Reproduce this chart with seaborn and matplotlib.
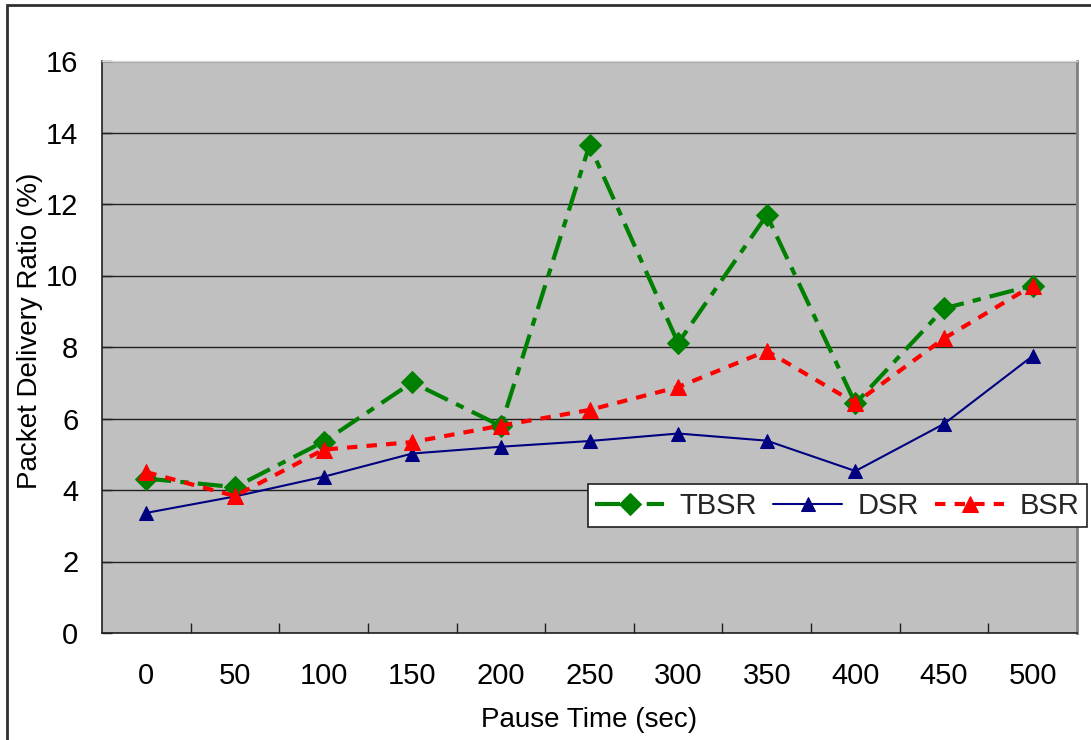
import matplotlib
matplotlib.use("Agg")
import matplotlib.pyplot as plt
import seaborn as sns
import pandas as pd
from matplotlib.patches import Rectangle
from matplotlib.ticker import MultipleLocator, FixedLocator

pause_times = [0, 50, 100, 150, 200, 250, 300, 350, 400, 450, 500]
tbsr = [4.32, 4.08, 5.35, 7.01, 5.79, 13.65, 8.11, 11.69, 6.42, 9.08, 9.72]
dsr = [3.36, 3.82, 4.37, 5.02, 5.21, 5.37, 5.58, 5.38, 4.53, 5.85, 7.75]
bsr = [4.50, 3.83, 5.13, 5.34, 5.80, 6.24, 6.88, 7.89, 6.43, 8.24, 9.72]
series_names = ["TBSR", "DSR", "BSR"]

sns.set_theme(style="white")
plt.rcParams['font.family'] = ['Liberation Sans', 'DejaVu Sans']

fig = plt.figure(figsize=(10.91, 7.40), dpi=100)
ax = fig.add_axes([102/1091, 1-633/740, (1077-102)/1091, (633-61)/740])
ax.set_facecolor("#C0C0C0")

df = pd.DataFrame({"Pause": pause_times, "TBSR": tbsr, "DSR": dsr, "BSR": bsr})

sns.lineplot(data=df, x="Pause", y="TBSR", ax=ax, color="#008000", lw=3,
             linestyle=(0, (6, 2.2, 2, 2.2)), marker="D", markersize=11,
             markeredgecolor="#008000", label="TBSR", zorder=3)
sns.lineplot(data=df, x="Pause", y="DSR", ax=ax, color="#000080", lw=1.5,
             linestyle="-", marker="^", markersize=10,
             markeredgecolor="#000080", label="DSR", zorder=4)
sns.lineplot(data=df, x="Pause", y="BSR", ax=ax, color="#FF0000", lw=3,
             linestyle=(0, (2.5, 2.2)), marker="^", markersize=11,
             markeredgecolor="#FF0000", label="BSR", zorder=5)

ax.set_xlim(-25, 525)
ax.set_ylim(0, 16)
ax.yaxis.set_major_locator(MultipleLocator(2))
ax.set_xticks(pause_times)
ax.set_xticklabels([str(p) for p in pause_times])
ax.xaxis.set_minor_locator(FixedLocator([p + 25 for p in pause_times[:-1]]))
ax.grid(axis="y", color="#202020", lw=1.0)
ax.set_axisbelow(True)

ax.tick_params(axis="x", which="major", length=0, labelsize=21, pad=21, colors="black")
ax.tick_params(axis="x", which="minor", direction="in", length=7, width=1, color="#202020", bottom=True)
ax.tick_params(axis="y", which="major", direction="in", length=7, width=1, color="#202020",
               labelsize=21, pad=17, left=True, labelcolor="black")

for s in ["left", "bottom"]:
    ax.spines[s].set_color("#202020")
    ax.spines[s].set_linewidth(1.2)
ax.spines["right"].set_visible(True)
ax.spines["right"].set_color("#808080")
ax.spines["right"].set_linewidth(2)
ax.spines["top"].set_visible(True)
ax.spines["top"].set_color("#D8D8D8")
ax.spines["top"].set_linewidth(1)

ax.set_xlabel("Pause Time (sec)", fontsize=20, labelpad=12, color="black")
ax.set_ylabel("Packet Delivery Ratio (%)", fontsize=20, color="black")
ax.yaxis.set_label_coords(-0.0605, 0.528)

if ax.get_legend():
    ax.get_legend().remove()
handles, labels = ax.get_legend_handles_labels()
leg = fig.legend(handles, labels, loc="lower left", ncol=3,
                 bbox_to_anchor=(588/1091, 1-527/740), bbox_transform=fig.transFigure,
                 fontsize=21, frameon=True, fancybox=False, framealpha=1,
                 edgecolor="#202020", handlelength=2.35, handletextpad=0.55,
                 columnspacing=0.55, borderpad=0.25, borderaxespad=0)
leg.get_frame().set_linewidth(1.2)

fig.patches.append(Rectangle((7/1091, -0.05), 1.2, 1 - 5/740 + 0.05, transform=fig.transFigure,
                             fill=False, edgecolor="#303030", lw=2, zorder=10))

fig.savefig("out.png", dpi=100)
